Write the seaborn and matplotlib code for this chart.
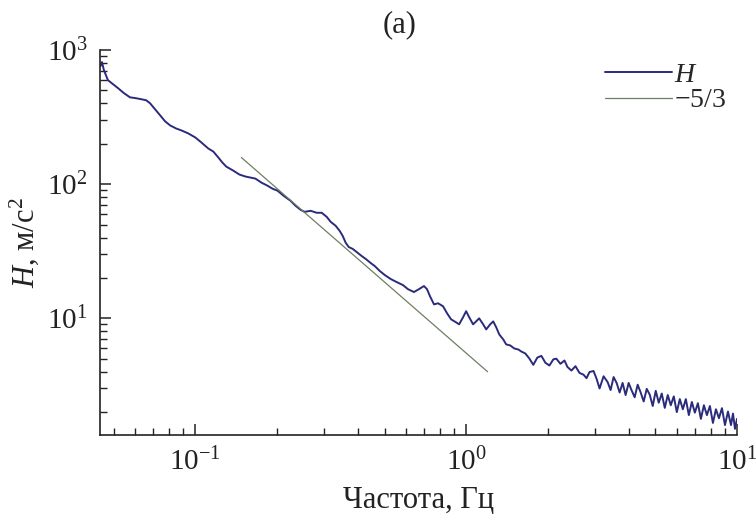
import numpy as np
import pandas as pd
import seaborn as sns
import matplotlib.pyplot as plt

# Spectrum H (frequency in Hz, H in m/s^2)
freq = [0.0447, 0.04525, 0.0460, 0.0476, 0.0497, 0.0519, 0.0546, 0.0574, 0.0605, 0.0631,
        0.0659, 0.0681, 0.0711, 0.0742, 0.0774, 0.0808, 0.0850, 0.0887, 0.0942, 0.100,
        0.1052, 0.1117, 0.1166, 0.1217, 0.1259, 0.1303, 0.1383, 0.1455, 0.1532, 0.1598,
        0.1668, 0.1756, 0.1848, 0.1929, 0.2013, 0.2118, 0.2248, 0.2346, 0.2448, 0.2533,
        0.2667, 0.2806, 0.2929, 0.3056, 0.3162, 0.330, 0.3415, 0.3503, 0.3594, 0.3687,
        0.3815, 0.3981, 0.4119, 0.4262, 0.4447, 0.4603, 0.4803, 0.5012, 0.5275, 0.5551,
        0.5843, 0.6098, 0.6418, 0.6697, 0.6988, 0.7171, 0.7357, 0.7612, 0.7875, 0.8219,
        0.8504, 0.880, 0.9183, 0.9421, 0.9747, 1.000, 1.026, 1.061, 1.089, 1.117,
        1.156, 1.186, 1.227, 1.259, 1.292, 1.325, 1.371, 1.406, 1.455, 1.506,
        1.558, 1.598, 1.654, 1.711, 1.770, 1.832, 1.896, 1.962, 2.030, 2.100,
        2.154, 2.229, 2.307, 2.366, 2.448, 2.533, 2.621, 2.713, 2.783, 2.855,
        2.954, 3.030, 3.109, 3.217, 3.329, 3.415, 3.503, 3.594, 3.687, 3.782,
        3.880, 3.981, 4.084, 4.190, 4.298, 4.410, 4.524, 4.642, 4.762, 4.885,
        5.012, 5.142, 5.275, 5.412, 5.551, 5.695, 5.843, 5.995, 6.150, 6.310,
        6.473, 6.641, 6.813, 6.988, 7.171, 7.357, 7.547, 7.743, 7.943, 8.149,
        8.360, 8.577, 8.799, 9.028, 9.261, 9.502, 9.665, 9.830, 10.0]
h_values = [759, 813, 708, 596, 556, 519, 476, 444, 437, 430,
            422, 401, 361, 326, 294, 274, 260, 252, 239, 223,
            205, 184.5, 175, 158, 145, 135, 126, 118, 114, 112,
            110, 102.6, 97.4, 92.5, 89.4, 82.0, 75.2, 69.0, 64.4, 62.2,
            63.3, 61.2, 61.2, 57.1, 52.4, 48.9, 44.8, 41.1, 36.5, 34.0,
            32.9, 30.7, 29.1, 27.7, 25.8, 24.5, 22.5, 21.0, 19.6, 18.6,
            17.7, 16.5, 15.7, 16.5, 17.4, 16.5, 14.6, 12.7, 12.95, 12.3,
            10.9, 9.83, 9.33, 9.02, 10.2, 11.3, 10.2, 9.02, 9.49, 10.0,
            9.02, 8.27, 9.02, 9.49, 8.56, 7.59, 6.96, 6.39, 6.28, 5.96,
            5.86, 5.66, 5.47, 5.02, 4.50, 5.10, 5.25, 4.66, 4.45, 4.95,
            5.00, 4.58, 4.85, 4.34, 4.08, 4.40, 3.92, 3.80, 3.58, 3.98,
            4.05, 3.55, 3.00, 3.70, 3.35, 2.92, 3.65, 3.30, 2.80, 3.30,
            2.68, 3.30, 2.90, 2.58, 3.20, 2.80, 2.40, 2.98, 2.70, 2.22,
            2.88, 2.35, 2.75, 2.15, 2.68, 2.25, 2.62, 2.00, 2.50, 2.10,
            2.50, 1.90, 2.38, 1.98, 2.33, 1.78, 2.25, 1.90, 2.22, 1.66,
            2.10, 1.80, 2.14, 1.60, 2.02, 1.60, 1.95, 1.50, 1.78]

# -5/3 reference line end points
slope_freq = [0.148, 1.2]
slope_h = [158, 4.0]

x_ticks = [0.1, 1, 10]
y_ticks = [10, 100, 1000]

sns.set_theme(style="ticks")
plt.rcParams['font.family'] = ['Liberation Serif', 'DejaVu Serif']
plt.rcParams['mathtext.fontset'] = 'custom'
plt.rcParams['mathtext.rm'] = 'Liberation Serif'
plt.rcParams['mathtext.it'] = 'Liberation Serif:italic'

fig = plt.figure(figsize=(7.56, 5.15), dpi=100)
ax = fig.add_axes([100 / 756, 1 - 435 / 515, 637 / 756, 385 / 515])

spec = pd.DataFrame({'freq': freq, 'H': h_values})
line = pd.DataFrame({'freq': slope_freq, 'H': slope_h})

sns.lineplot(data=spec, x='freq', y='H', sort=False, estimator=None, ax=ax,
             color='#2b2b7c', lw=1.4, label='$H$')
sns.lineplot(data=line, x='freq', y='H', sort=False, estimator=None, ax=ax,
             color='#6f7f62', lw=0.9, label='$-5/3$')

ax.set(xscale='log', yscale='log')
ax.set_xlim(0.0445, 10)
ax.set_ylim(1.35, 1000)
ax.set_xticks(x_ticks)
ax.set_yticks(y_ticks)

sns.despine(ax=ax)
for s in ['left', 'bottom']:
    ax.spines[s].set_linewidth(1.2)
    ax.spines[s].set_color('#222222')
ax.tick_params(which='major', direction='in', length=8, width=1.1, pad=9,
               labelsize=21, colors='#222222')
ax.tick_params(which='minor', direction='in', length=5, width=1.0, colors='#222222')

ax.set_xlabel('Частота, Гц', fontsize=22, labelpad=7, color='#222222')
ax.set_ylabel('$H$, м/с$^2$', fontsize=22, labelpad=4, color='#222222')
fig.text(400 / 756, 1 - 25 / 515, '(a)', fontsize=22, ha='center', va='center',
         color='#222222')

ax.legend(loc='center left', bbox_to_anchor=(605 / 756, 1 - 88 / 515),
          bbox_transform=fig.transFigure, frameon=False, fontsize=20,
          handlelength=2.4, handletextpad=0.1, labelspacing=0.0,
          borderpad=0, borderaxespad=0)

plt.savefig('out.png', dpi=100)
